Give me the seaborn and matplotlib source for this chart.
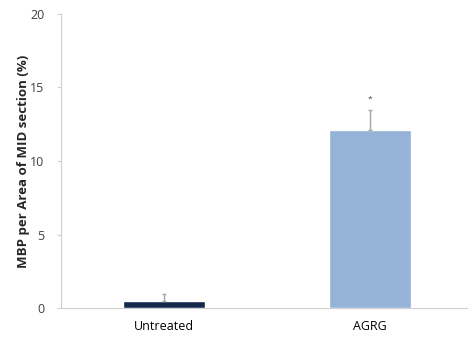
import matplotlib
matplotlib.use("Agg")
import matplotlib.pyplot as plt
import seaborn as sns
import pandas as pd
import numpy as np

categories = ["Untreated", "AGRG"]
values = [0.5, 12.1]
errors_up = [0.45, 1.4]
colors = ["#14284B", "#95B3D7"]
yticks = [0, 5, 10, 15, 20]
sig_marks = ["", "*"]
sig_y = [None, 14.2]

sns.set_theme(style="white")
plt.rcParams['font.family'] = ['Open Sans', 'DejaVu Sans']

df = pd.DataFrame({"cat": categories, "val": values})

fig = plt.figure(figsize=(4.68, 3.38), dpi=100)
ax = fig.add_axes([61/468, 30/338, 412/468, 294/338])

sns.barplot(data=df, x="cat", y="val", hue="cat", palette=colors,
            order=categories, hue_order=categories, width=0.40,
            legend=False, errorbar=None, ax=ax, saturation=1)

xpos = np.arange(len(categories))
ax.errorbar(xpos, values, yerr=[np.zeros(len(values)), errors_up], fmt="none",
            ecolor="#A6A6A6", elinewidth=1.0, capsize=1.5, capthick=1.0, zorder=3)

for x, m, y in zip(xpos, sig_marks, sig_y):
    if m:
        ax.text(x, y, m, ha="center", va="center", fontsize=6, color="#404040")

ax.set_xlim(-0.5, 1.5)
ax.set_ylim(0, 20)
ax.set_yticks(yticks)
ax.set_yticklabels([str(t) for t in yticks], fontsize=9, color="#404040")
ax.set_xticks(xpos)
ax.set_xticklabels(categories, fontsize=9, color="#000000")
ax.tick_params(axis="x", length=0, pad=9)
ax.set_xticks([0.5], minor=True)
ax.tick_params(axis="x", which="minor", length=4, color="#D0D0D0", width=0.8, direction="out")
ax.tick_params(axis="y", length=3, color="#D0D0D0", width=0.8, direction="out", pad=9, left=True)

ax.set_xlabel("")
ax.set_ylabel("MBP per Area of MID section (%)", fontsize=9.5, fontweight="bold", labelpad=0)

for s in ["top", "right"]:
    ax.spines[s].set_visible(False)
for s in ["left", "bottom"]:
    ax.spines[s].set_color("#D0D0D0")
    ax.spines[s].set_linewidth(0.8)

fig.savefig("out.png", dpi=100)
